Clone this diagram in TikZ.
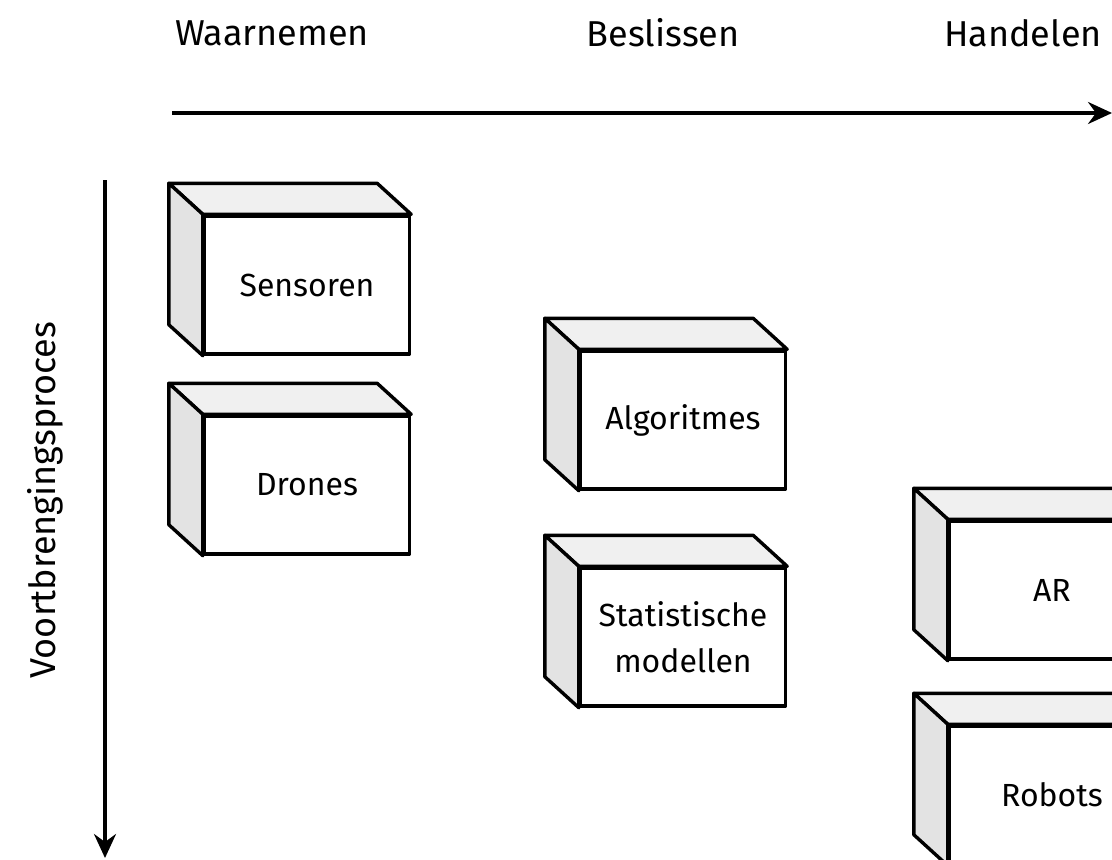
\documentclass[tikz,border=0pt]{standalone}
\usepackage{fontspec}
\setmainfont{Fira Sans}
\usetikzlibrary{arrows.meta,calc,positioning}

\tikzset{
  front/.style={draw, line width=3.4pt, fill=white, minimum width=205pt,
    minimum height=138pt, align=center, line join=round,
    font=\fontsize{32}{46}\selectfont},
  topface/.style={draw, line width=3.4pt, fill=gray!12, line join=round},
  sideface/.style={draw, line width=3.4pt, fill=gray!22, line join=round},
  axis/.style={line width=3.4pt, -{Stealth[length=24pt,width=22pt,inset=8pt]}},
  heading/.style={font=\fontsize{36}{40}\selectfont}
}

\begin{document}
\begin{tikzpicture}[x=1pt,y=-1pt]
    \useasboundingbox (0,0) rectangle (1112,860);
    \clip (0,0) rectangle (1112,860);

    % column headings
    \node[heading] (waar) at (272,33) {Waarnemen};
    \node[heading] (besl) at (663,33) {Beslissen};
    \node[heading] (hand) at (1023,33) {Handelen};

    % axes
    \coordinate (hstart) at (172,113);
    \coordinate (hend) at (1112,113);
    \draw[axis] (hstart) -- (hend);
    \coordinate (vstart) at (105,180);
    \coordinate (vend) at (105,858);
    \draw[axis] (vstart) -- (vend);
    \node[heading, rotate=90] (proces) at (45,500) {Voortbrengingsproces};

    % boxes (front faces)
    \node[front] (sens) at (307,285) {Sensoren};
    \node[front] (dron) at (307,485) {Drones};
    \node[front] (algo) at (683,420) {Algoritmes};
    \node[front] (stat) at (683,637) {Statistische\\modellen};
    \node[front] (ar) at (1052,590) {AR};
    \node[front] (robo) at (1052,795) {Robots};

    % top and side faces
    \foreach \n in {sens,dron,algo,stat,ar,robo} {
        \draw[topface] (\n.north west) -- ++(-34,-31)
            -- ($(\n.north east)+(-34,-31)$) -- (\n.north east) -- cycle;
        \draw[sideface] (\n.north west) -- ++(-34,-31)
            -- ($(\n.south west)+(-34,-31)$) -- (\n.south west) -- cycle;
    }
\end{tikzpicture}
\end{document}
